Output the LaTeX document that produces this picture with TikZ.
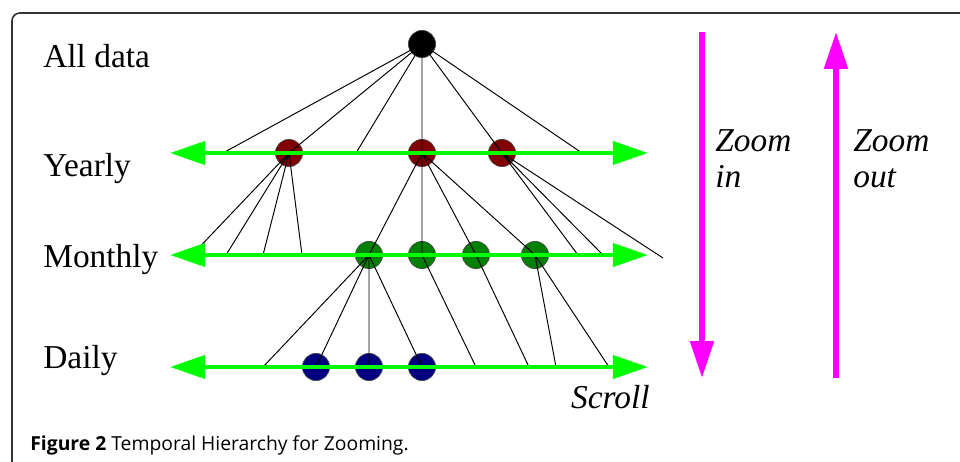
\documentclass[tikz,border=0pt]{standalone}
\usepackage{fontspec}
\setmainfont{Liberation Serif}
\newfontfamily\capfont{Open Sans}
\usetikzlibrary{arrows.meta,positioning}
\definecolor{yearred}{HTML}{800000}
\definecolor{monthgreen}{HTML}{008000}
\definecolor{daynavy}{HTML}{000080}
\definecolor{scrollgreen}{HTML}{00FF00}
\definecolor{zoommagenta}{HTML}{FF00FF}

\begin{document}
\begin{tikzpicture}[x=0.02cm,y=-0.02cm]
  \tikzstyle{dot} = [circle, draw=black!70, line width=0.4pt, inner sep=0pt, minimum size=15.5pt]
  \tikzstyle{level} = [anchor=base west, inner sep=0pt, font=\fontsize{19}{22}\selectfont]
  \tikzstyle{link} = [draw, line width=0.55pt]
  \tikzstyle{scroll} = [draw=scrollgreen, line width=2.6pt, {Triangle[length=20pt,width=13pt]}-{Triangle[length=20pt,width=13pt]}]
  \tikzstyle{zoom} = [draw=zoommagenta, line width=3.2pt, -{Triangle[length=21pt,width=13pt]}]
\useasboundingbox (0,0) rectangle (960,462);
\draw [black!80, line width=0.9pt, rounded corners=4.5pt] (12,480) -- (12,13) -- (980,13);
% level names
\node [level] (all) at (43,68) {All data};
\node [level] (year) at (43,177) {Yearly};
\node [level] (month) at (43,268) {Monthly};
\node [level] (day) at (43,369) {Daily};
% the tree
\node [dot, fill=black] (r) at (422,44) {};
\node [dot, fill=yearred] (y1) at (289,153) {};
\node [dot, fill=yearred] (y2) at (422,153) {};
\node [dot, fill=yearred] (y3) at (502,153) {};
\node [dot, fill=monthgreen] (m1) at (369,255) {};
\node [dot, fill=monthgreen] (m2) at (422,255) {};
\node [dot, fill=monthgreen] (m3) at (476,255) {};
\node [dot, fill=monthgreen] (m4) at (535,255) {};
\node [dot, fill=daynavy] (d1) at (316,367) {};
\node [dot, fill=daynavy] (d2) at (369,367) {};
\node [dot, fill=daynavy] (d3) at (422,367) {};
% loose ends on each level
\coordinate (ya) at (223,153);
\coordinate (yb) at (356,153);
\coordinate (yc) at (582,153);
\coordinate (ma) at (192,255);
\coordinate (mb) at (226,255);
\coordinate (mc) at (263,255);
\coordinate (md) at (302,255);
\coordinate (me) at (578,255);
\coordinate (mf) at (603,255);
\coordinate (mg) at (663,258);
\coordinate (da) at (263,367);
\coordinate (db) at (476,367);
\coordinate (dc) at (529,367);
\coordinate (dd) at (556,367);
\coordinate (de) at (609,367);
\path [link] (r.center) -- (ya) (r.center) -- (y1.center) (r.center) -- (yb)
  (r.center) -- (y2.center) (r.center) -- (y3.center) (r.center) -- (yc);
\path [link] (y1.center) -- (ma) (y1.center) -- (mb) (y1.center) -- (mc) (y1.center) -- (md);
\path [link] (y2.center) -- (m1.center) (y2.center) -- (m2.center) (y2.center) -- (m3.center) (y2.center) -- (m4.center);
\path [link] (y3.center) -- (me) (y3.center) -- (mf) (y3.center) -- (mg);
\path [link] (m1.center) -- (da) (m1.center) -- (d1.center) (m1.center) -- (d2.center) (m1.center) -- (d3.center);
\path [link] (m2.center) -- (db);
\path [link] (m3.center) -- (dc);
\path [link] (m4.center) -- (dd) (m4.center) -- (de);
% scroll bars
\coordinate (yl) at (170,153);
\coordinate (yr) at (648,153);
\coordinate (ml) at (170,255);
\coordinate (mr) at (648,255);
\coordinate (dl) at (170,367);
\coordinate (dr) at (648,367);
\path [scroll] (yl) -- (yr);
\path [scroll] (ml) -- (mr);
\path [scroll] (dl) -- (dr);
\node [anchor=base east, inner sep=0pt, font=\fontsize{19}{22}\selectfont\itshape] (scr) at (650,408) {Scroll};
% zoom arrows
\coordinate (zit) at (702,32);
\coordinate (zib) at (702,378);
\coordinate (zot) at (836,32);
\coordinate (zob) at (836,378);
\path [zoom] (zit) -- (zib);
\path [zoom] (zob) -- (zot);
\node [anchor=north west, inner sep=0pt, align=left, font=\fontsize{19}{20.4}\selectfont\itshape] (zin) at (715,129) {Zoom\\in};
\node [anchor=north west, inner sep=0pt, align=left, font=\fontsize{19}{20.4}\selectfont\itshape] (zout) at (853,129) {Zoom\\out};
% caption
\node [anchor=base west, inner sep=0pt, font=\capfont\fontsize{11}{13}\selectfont] (cap) at (30,450) {\textbf{Figure 2} Temporal Hierarchy for Zooming.};
\end{tikzpicture}
\end{document}
